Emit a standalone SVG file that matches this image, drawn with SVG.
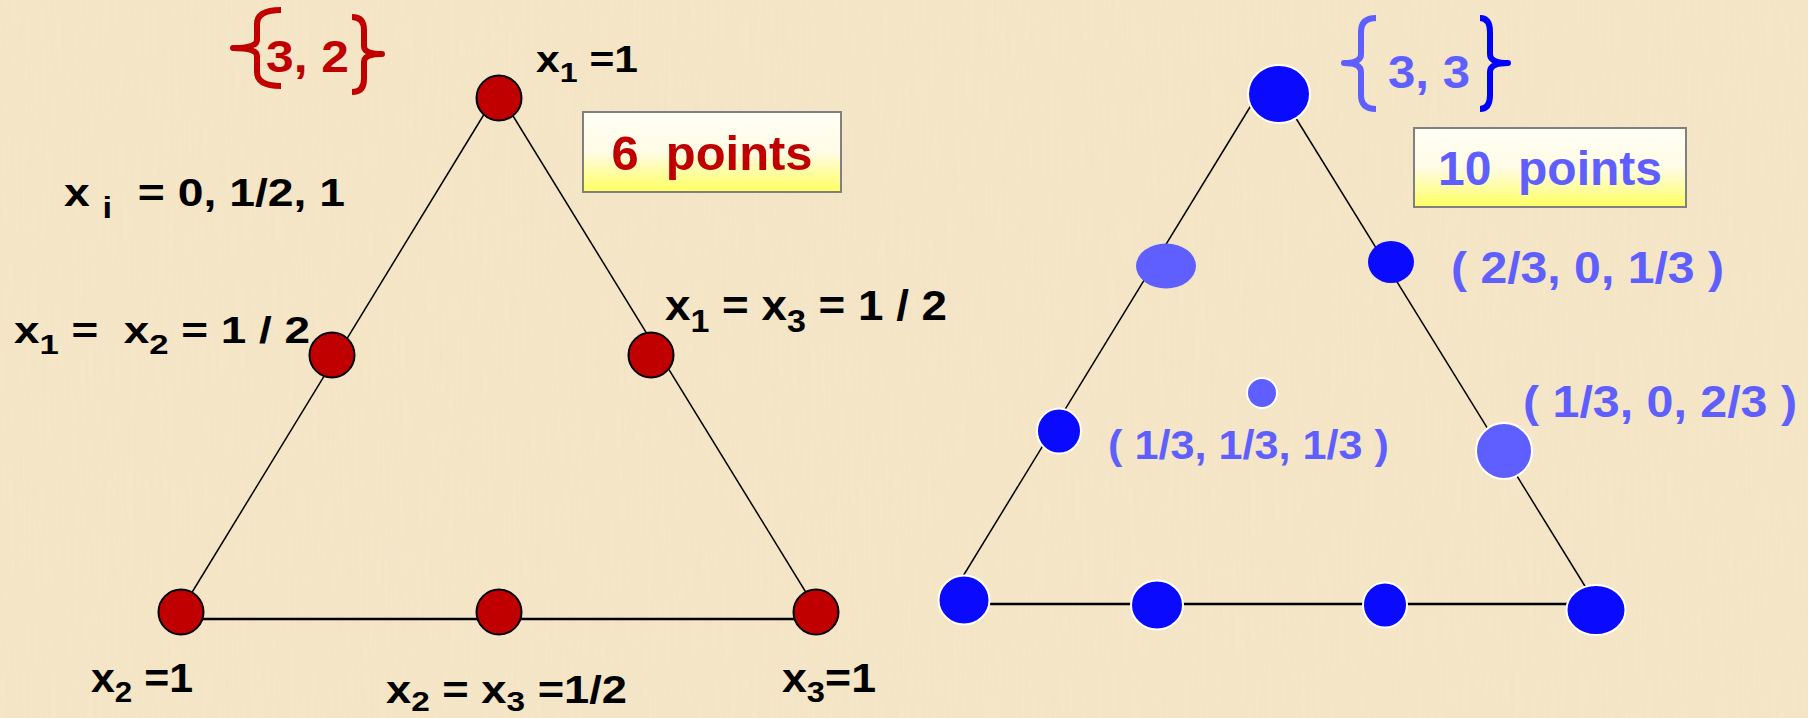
<svg xmlns="http://www.w3.org/2000/svg" width="1808" height="718" viewBox="0 0 1808 718">
<style>
  .t { font-family: "Liberation Sans", Arial, sans-serif; font-weight: bold; white-space: pre; }
  .blk { fill: #000000; }
  .red { fill: #c00000; }
  .lb { fill: #5f5fff; }
  .edge { stroke: #000000; stroke-width: 1.5; fill: none; }
  .base { stroke: #000000; stroke-width: 2.5; fill: none; }
  .rn { fill: #c00000; stroke: #000000; stroke-width: 2; }
  .bn { fill: #0a0aff; }
  .ln { fill: #5f5fff; }
  .ws { stroke: #ffffff; stroke-width: 2; }
  .box { stroke: #808080; stroke-width: 2; fill: url(#yel); }
  .brace { fill: none; stroke-width: 6; stroke-linejoin: round; }
</style>
<defs>
  <linearGradient id="yel" x1="0" y1="0" x2="0" y2="1">
    <stop offset="0" stop-color="#fffff4"/>
    <stop offset="0.5" stop-color="#fffbe6"/>
    <stop offset="1" stop-color="#ffff60"/>
  </linearGradient>
  <filter id="tex" x="0" y="0" width="100%" height="100%">
    <feTurbulence type="fractalNoise" baseFrequency="0.35 0.015" numOctaves="2" seed="7"/>
    <feColorMatrix type="matrix" values="0 0 0 0 0.78  0 0 0 0 0.66  0 0 0 0 0.45  0.5 0 0 0 -0.2"/>
  </filter>
</defs>
<rect x="0" y="0" width="1808" height="718" fill="#f4e6c7"/>
<rect x="0" y="0" width="1808" height="718" filter="url(#tex)" opacity="0.5"/>

<g id="connectors">
  <line class="edge" x1="494" y1="98" x2="180" y2="612"/>
  <line class="edge" x1="502" y1="98" x2="818" y2="612"/>
  <line class="base" x1="181" y1="619" x2="816" y2="619"/>
  <line class="edge" x1="1258" y1="94" x2="946" y2="604"/>
  <line class="edge" x1="1281" y1="94" x2="1596" y2="604"/>
  <line class="base" x1="964" y1="604" x2="1596" y2="604"/>
</g>

<g id="left-diagram">
  <g id="brace-32">
    <path class="brace" stroke="#c00000" d="M281,10 Q257,10 257,24 L257,40 Q257,48 233,48 Q257,48 257,56 L257,72 Q257,86 281,86"/>
    <path class="brace" stroke="#c00000" d="M352,17 Q364,17 364,30 L364,46 Q364,54 382,54 Q364,54 364,62 L364,79 Q364,92 352,92"/>
    <text class="t red" x="266" y="72" font-size="45" textLength="83" lengthAdjust="spacingAndGlyphs">3, 2</text>
  </g>
  <g id="box-6"><rect class="box" x="583" y="112" width="258" height="80"/>
    <text class="t red" x="712" y="170" font-size="49" text-anchor="middle" textLength="201" lengthAdjust="spacingAndGlyphs">6  points</text></g>
  <g id="n-top"><circle class="rn" cx="499" cy="98" r="22.5"/></g>
  <g id="n-l12"><circle class="rn" cx="332" cy="355" r="22.5"/></g>
  <g id="n-l13"><circle class="rn" cx="651" cy="355" r="22.5"/></g>
  <g id="n-bl"><circle class="rn" cx="181" cy="612" r="22.5"/></g>
  <g id="n-bm"><circle class="rn" cx="499" cy="612" r="22.5"/></g>
  <g id="n-br"><circle class="rn" cx="816" cy="612" r="22.5"/></g>

  <text class="t blk" x="536" y="72" font-size="37" textLength="102" lengthAdjust="spacingAndGlyphs">x<tspan dy="10" font-size="28">1</tspan><tspan dy="-10"> =1</tspan></text>
  <text class="t blk" x="64" y="206" font-size="39" textLength="281" lengthAdjust="spacingAndGlyphs">x <tspan dy="12" font-size="29">i</tspan><tspan dy="-12">  = 0, 1/2, 1</tspan></text>
  <text class="t blk" x="14" y="343" font-size="37" textLength="296" lengthAdjust="spacingAndGlyphs">x<tspan dy="11" font-size="28">1</tspan><tspan dy="-11"> =  x</tspan><tspan dy="11" font-size="28">2</tspan><tspan dy="-11"> = 1 / 2</tspan></text>
  <text class="t blk" x="665" y="320" font-size="43" textLength="282" lengthAdjust="spacingAndGlyphs">x<tspan dy="12" font-size="32">1</tspan><tspan dy="-12"> = x</tspan><tspan dy="12" font-size="32">3</tspan><tspan dy="-12"> = 1 / 2</tspan></text>
  <text class="t blk" x="91" y="692" font-size="41" textLength="102" lengthAdjust="spacingAndGlyphs">x<tspan dy="10" font-size="30">2</tspan><tspan dy="-10"> =1</tspan></text>
  <text class="t blk" x="386" y="703" font-size="38" textLength="241" lengthAdjust="spacingAndGlyphs">x<tspan dy="8" font-size="28">2</tspan><tspan dy="-8"> = x</tspan><tspan dy="8" font-size="28">3</tspan><tspan dy="-8"> =1/2</tspan></text>
  <text class="t blk" x="782" y="692" font-size="41" textLength="94" lengthAdjust="spacingAndGlyphs">x<tspan dy="10" font-size="30">3</tspan><tspan dy="-10">=1</tspan></text>
</g>

<g id="right-diagram">
  <g id="brace-33">
    <path class="brace" stroke="#5f5fff" stroke-width="7" d="M1376,18 Q1361,18 1361,32 L1361,54 Q1361,63 1344,63 Q1361,63 1361,72 L1361,95 Q1361,109 1376,109"/>
    <path class="brace" stroke="#0000ff" stroke-width="7" d="M1480,18 Q1490,18 1490,32 L1490,54 Q1490,63 1508,63 Q1490,63 1490,72 L1490,95 Q1490,109 1480,109"/>
    <text class="t lb" x="1388" y="88" font-size="46" textLength="82" lengthAdjust="spacingAndGlyphs">3, 3</text>
  </g>
  <g id="box-10"><rect class="box" x="1414" y="128" width="272" height="79"/>
    <text class="t lb" x="1550" y="185" font-size="48" text-anchor="middle" textLength="224" lengthAdjust="spacingAndGlyphs">10  points</text></g>
  <g id="b-top"><ellipse class="bn ws" cx="1279" cy="94" rx="31" ry="29"/></g>
  <g id="b-ul"><ellipse class="ln" cx="1166" cy="266" rx="30" ry="22.5"/></g>
  <g id="b-ur"><ellipse class="bn" cx="1391" cy="262" rx="23" ry="21"/></g>
  <g id="b-ml"><ellipse class="bn ws" cx="1059" cy="431" rx="22" ry="22.5"/></g>
  <g id="b-c"><circle class="ln ws" cx="1262" cy="393" r="15"/></g>
  <g id="b-mr"><circle class="ln ws" cx="1504" cy="451" r="28"/></g>
  <g id="b-b1"><ellipse class="bn ws" cx="964" cy="600" rx="25.5" ry="24.5"/></g>
  <g id="b-b2"><ellipse class="bn ws" cx="1157" cy="605" rx="26" ry="24.5"/></g>
  <g id="b-b3"><ellipse class="bn ws" cx="1385" cy="605" rx="22" ry="22.5"/></g>
  <g id="b-b4"><ellipse class="bn ws" cx="1596" cy="610" rx="29.5" ry="25"/></g>

  <text class="t lb" x="1451" y="283" font-size="44" textLength="273" lengthAdjust="spacingAndGlyphs">( 2/3, 0, 1/3 )</text>
  <text class="t lb" x="1523" y="417" font-size="45" textLength="274" lengthAdjust="spacingAndGlyphs">( 1/3, 0, 2/3 )</text>
  <text class="t lb" x="1108" y="459" font-size="41" textLength="281" lengthAdjust="spacingAndGlyphs">( 1/3, 1/3, 1/3 )</text>
</g>
</svg>
